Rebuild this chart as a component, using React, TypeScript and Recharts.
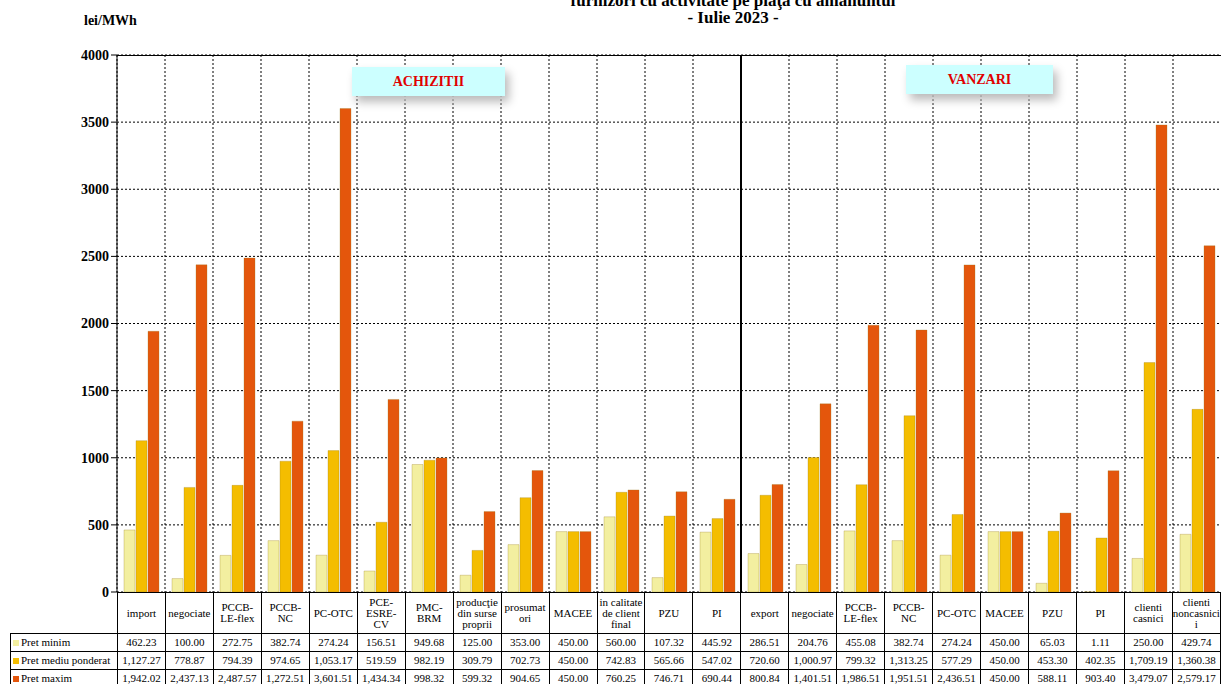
import React from 'react';
import { BarChart, Bar, XAxis, YAxis, CartesianGrid } from 'recharts';

const categories = [
  'import', 'negociate', 'PCCB-LE-flex', 'PCCB-NC', 'PC-OTC', 'PCE-ESRE-CV', 'PMC-BRM',
  'producţie din surse proprii', 'prosumatori', 'MACEE', 'in calitate de client final', 'PZU', 'PI',
  'export', 'negociate', 'PCCB-LE-flex', 'PCCB-NC', 'PC-OTC', 'MACEE', 'PZU', 'PI',
  'clienti casnici', 'clienti noncasnici',
];
const labelLines = [
  ['import'], ['negociate'], ['PCCB-', 'LE-flex'], ['PCCB-', 'NC'], ['PC-OTC'], ['PCE-', 'ESRE-', 'CV'], ['PMC-', 'BRM'],
  ['producţie', 'din surse', 'proprii'], ['prosumat', 'ori'], ['MACEE'], ['in calitate', 'de client', 'final'], ['PZU'], ['PI'],
  ['export'], ['negociate'], ['PCCB-', 'LE-flex'], ['PCCB-', 'NC'], ['PC-OTC'], ['MACEE'], ['PZU'], ['PI'],
  ['clienti', 'casnici'], ['clienti', 'noncasnici', 'i'],
];
const pretMinim = [462.23, 100.0, 272.75, 382.74, 274.24, 156.51, 949.68, 125.0, 353.0, 450.0, 560.0, 107.32, 445.92,
  286.51, 204.76, 455.08, 382.74, 274.24, 450.0, 65.03, 1.11, 250.0, 429.74];
const pretMediu = [1127.27, 778.87, 794.39, 974.65, 1053.17, 519.59, 982.19, 309.79, 702.73, 450.0, 742.83, 565.66, 547.02,
  720.6, 1000.97, 799.32, 1313.25, 577.29, 450.0, 453.3, 402.35, 1709.19, 1360.38];
const pretMaxim = [1942.02, 2437.13, 2487.57, 1272.51, 3601.51, 1434.34, 998.32, 599.32, 904.65, 450.0, 760.25, 746.71, 690.44,
  800.84, 1401.51, 1986.51, 1951.51, 2436.51, 450.0, 588.11, 903.4, 3479.07, 2579.17];
const yTicks = [0, 500, 1000, 1500, 2000, 2500, 3000, 3500, 4000];

const series = [
  { key: 'min', name: 'Pret minim', values: pretMinim, color: '#f3efa0' },
  { key: 'med', name: 'Pret mediu ponderat', values: pretMediu, color: '#f4bd00' },
  { key: 'max', name: 'Pret maxim', values: pretMaxim, color: '#e4560c' },
];

const data = categories.map((c, i) => ({ name: c, min: pretMinim[i], med: pretMediu[i], max: pretMaxim[i] }));

const fmt = (v: number) => v.toLocaleString('en-US', { minimumFractionDigits: 2, maximumFractionDigits: 2 });

const LEFT = 117;
const COL = 48;
const TOP = 55;
const BOTTOM = 592;
const font = '"Liberation Serif", "Times New Roman", serif';

const cell: React.CSSProperties = {
  border: '1px solid #000', fontSize: 11, textAlign: 'center', padding: 0, lineHeight: '11px',
  overflow: 'hidden', whiteSpace: 'nowrap', fontFamily: font, background: '#fff',
};

export default function App() {
  return (
    <div style={{ position: 'absolute', left: 0, top: 0, width: 1221, height: 684, overflow: 'hidden', background: '#fff', fontFamily: font }}>
      <div style={{ position: 'absolute', left: 733 - 300, top: -8, width: 600, textAlign: 'center', fontWeight: 'bold', fontSize: 17, lineHeight: '17px' }}>
        furnizori cu activitate pe piaţa cu amănuntul<br />- Iulie 2023 -
      </div>
      <div style={{ position: 'absolute', left: 84, top: 13, fontWeight: 'bold', fontSize: 14 }}>lei/MWh</div>
      <BarChart width={1221} height={BOTTOM + 12} data={data} margin={{ top: TOP, right: 0, bottom: 12, left: 0 }} barSize={11} barGap={1} barCategoryGap={6}>
        <CartesianGrid
          stroke="#000"
          strokeDasharray="2 2"
          verticalCoordinatesGenerator={() => categories.map((_, i) => LEFT + i * COL)}
        />
        <XAxis dataKey="name" hide />
        <YAxis width={LEFT} domain={[0, 4000]} ticks={yTicks} interval={0} axisLine={{ stroke: '#000' }} tickLine={{ stroke: '#000' }}
          tick={{ fontSize: 14, fontWeight: 'bold', fill: '#000', fontFamily: font }} />
        {series.map((s) => (
          <Bar key={s.key} dataKey={s.key} name={s.name} fill={s.color} stroke="#9a7a20" strokeWidth={0.3} isAnimationActive={false} />
        ))}
      </BarChart>
      <div style={{ position: 'absolute', left: LEFT + 13 * COL - 1, top: TOP, width: 2, height: BOTTOM - TOP, background: '#000' }} />
      <div style={{ position: 'absolute', left: LEFT, top: TOP, width: 1104, height: 1, background: '#000' }} />
      <div style={{ position: 'absolute', left: 352, top: 67, width: 153, height: 29, background: '#ccffff', color: '#e00000', fontWeight: 'bold', fontSize: 14, textAlign: 'center', lineHeight: '29px', boxShadow: '4px 6px 10px #bbb' }}>ACHIZITII</div>
      <div style={{ position: 'absolute', left: 906, top: 65, width: 147, height: 29, background: '#ccffff', color: '#e00000', fontWeight: 'bold', fontSize: 14, textAlign: 'center', lineHeight: '29px', boxShadow: '4px 6px 10px #bbb' }}>VANZARI</div>
      <table style={{ position: 'absolute', left: 10, top: BOTTOM, borderCollapse: 'collapse', tableLayout: 'fixed', fontFamily: font }}>
        <colgroup>
          <col style={{ width: LEFT - 10 }} />
          {categories.map((_, i) => <col key={i} style={{ width: COL }} />)}
        </colgroup>
        <tbody>
          <tr style={{ height: 41 }}>
            <td style={{ ...cell, border: 'none', background: 'transparent' }} />
            {labelLines.map((l, i) => (
              <td key={i} style={{ ...cell, whiteSpace: 'normal' }}>{l.map((t, j) => <div key={j}>{t}</div>)}</td>
            ))}
          </tr>
          {series.map((s) => (
            <tr key={s.key} style={{ height: 18 }}>
              <td style={{ ...cell, textAlign: 'left', paddingLeft: 2 }}>
                <span style={{ display: 'inline-block', width: 6, height: 6, background: s.color, marginRight: 2 }} />{s.name}
              </td>
              {s.values.map((v, i) => <td key={i} style={cell}>{fmt(v)}</td>)}
            </tr>
          ))}
        </tbody>
      </table>
    </div>
  );
}
